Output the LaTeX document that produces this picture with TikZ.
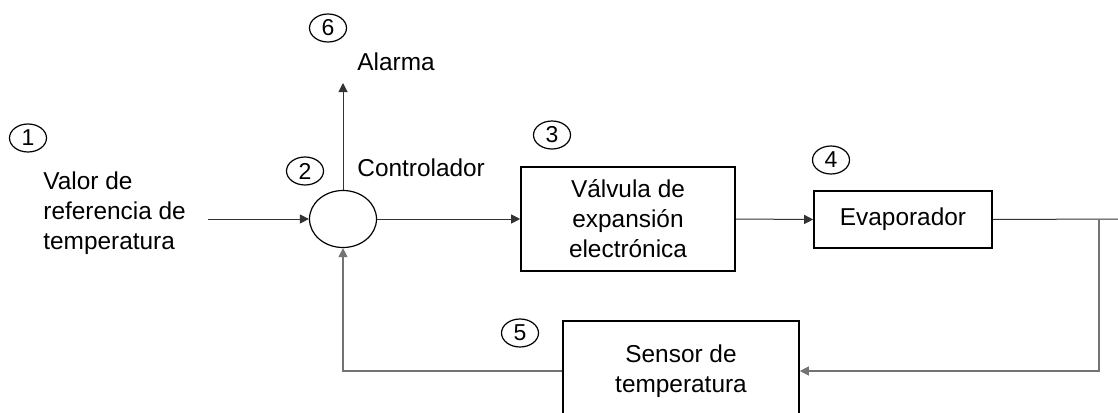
\documentclass[tikz,border=0pt]{standalone}
\usepackage{fontspec}
\setmainfont{Liberation Sans}
\usetikzlibrary{arrows.meta,shapes.geometric}

\begin{document}
\begin{tikzpicture}[x=0.5pt,y=-0.5pt,font=\fontsize{12.2pt}{15pt}\selectfont]
  \tikzset{
    block/.style={draw=black,line width=0.8pt,align=center,inner sep=0pt},
    sumnode/.style={draw=black,line width=0.6pt,ellipse,inner sep=0pt,
      minimum width=33.5pt,minimum height=28.5pt},
    num/.style={draw=black,line width=0.6pt,ellipse,inner sep=0pt,
      minimum width=18.5pt,minimum height=14pt,font=\fontsize{11.5pt}{12pt}\selectfont},
    lbl/.style={anchor=west,align=left,inner sep=0pt},
    conn/.style={draw=black!80,line width=0.5pt,-{Triangle[length=4.5pt,width=4.5pt]}},
    fb/.style={draw=black!55,line width=0.6pt},
    fbarrow/.style={fb,-{Triangle[length=4.5pt,width=4.5pt]}}
  }
  \clip (0,0) rectangle (1118,412);
  \fill[white] (0,0) rectangle (1118,412);

  % Reference input and controller.
  \node[num] (n1) at (28,138) {1};
  \node[lbl] (ref) at (43,213) {Valor de\\referencia de\\temperatura};
  \coordinate (refin) at (208,219);
  \node[sumnode] (sum) at (343,219) {};
  \node[num] (n2) at (305,171) {2};
  \node[lbl] (ctrl) at (357,168) {Controlador};

  % Alarm output.
  \node[num] (n6) at (328,28) {6};
  \node[lbl] (alarma) at (357,62) {Alarma};
  \coordinate (alarmtip) at (343,83);

  % Forward path.
  \node[block,minimum width=107pt,minimum height=52pt] (valve) at (628,219)
    {V\'alvula de\\expansi\'on\\electr\'onica};
  \node[num] (n3) at (552,135) {3};
  \node[block,minimum width=89pt,minimum height=28.5pt] (evap) at (903,219.5) {Evaporador};
  \node[num] (n4) at (831,160) {4};
  \coordinate (rend) at (1118,219);
  \coordinate (tap) at (1099,219);

  % Feedback path.
  \node[block,minimum width=118pt,minimum height=50pt] (sensor) at (681,371)
    {Sensor de\\temperatura};
  \node[num] (n5) at (520,333) {5};

  \draw[conn] (refin) -- (sum.west);
  \draw[conn] (sum.north) -- (alarmtip);
  \draw[conn] (sum.east) -- (valve.west);
  \draw[conn] (valve.east) -- (evap.west);
  \draw[draw=black!80,line width=0.5pt] (evap.east) -- (rend);
  \draw[fbarrow] (tap) |- (sensor.east);
  \draw[fbarrow] (sensor.west) -| (sum.south);
\end{tikzpicture}
\end{document}
